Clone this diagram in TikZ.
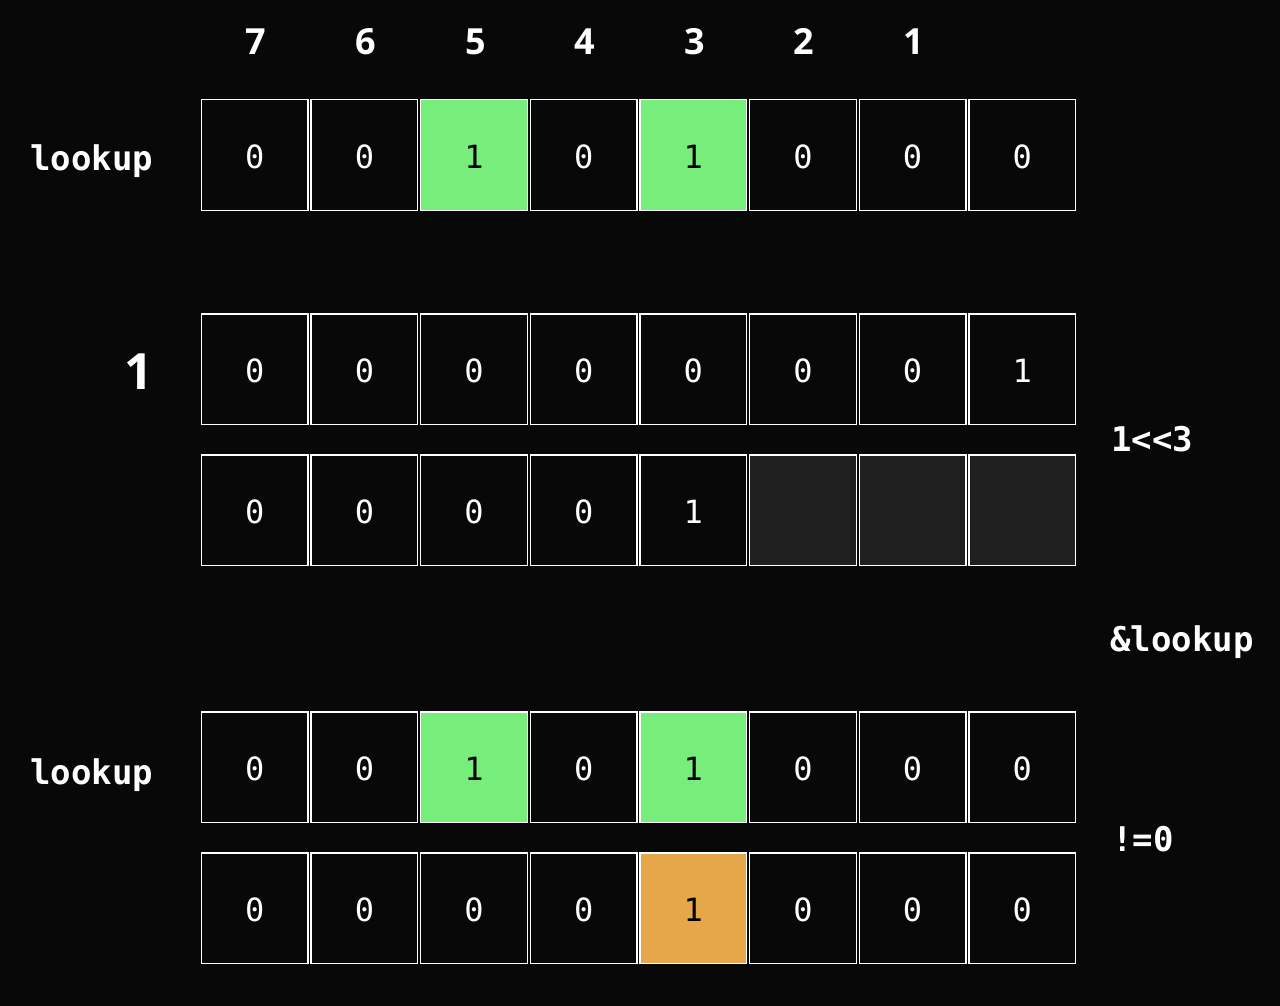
\documentclass[tikz,border=0pt]{standalone}
\usepackage{fontspec}
\setmainfont{DejaVu Sans}
\newfontfamily\cellfont{DejaVu Sans Mono}[Numbers=SlashedZero]
\newfontfamily\headfont{Open Sans}
\definecolor{bgc}{HTML}{080808}
\definecolor{ongreen}{HTML}{77ED7B}
\definecolor{hitorange}{HTML}{E6A64A}
\definecolor{dimgray}{HTML}{202020}
\tikzset{
  cell/.style={draw=white, line width=1.5pt, minimum width=106.6pt, minimum height=110.5pt,
    inner sep=0pt, text height=27pt, text depth=0pt, fill=bgc, text=white,
    font=\cellfont\fontsize{32}{32}\selectfont},
  on/.style={cell, fill=ongreen, text=black},
  hit/.style={cell, fill=hitorange, text=black},
  dim/.style={cell, fill=dimgray},
  lbl/.style={anchor=base west, inner sep=0pt, text=white, font=\cellfont\bfseries\fontsize{34}{34}\selectfont},
  hdr/.style={anchor=base, inner sep=0pt, text=white, font=\headfont\bfseries\fontsize{36}{36}\selectfont}
}
\begin{document}
\begin{tikzpicture}[x=1pt,y=-1pt]
\fill[bgc] (0,0) rectangle (1280,1006);
\useasboundingbox (0,0) rectangle (1280,1006);
% header bit numbers
\foreach \t [count=\i from 0] in {7,6,5,4,3,2,1}
  \node[hdr] (h\i) at (256+109.64*\i,55) {\t};
% row 1: lookup
\foreach \v/\s [count=\i from 0] in {0/cell,0/cell,1/on,0/cell,1/on,0/cell,0/cell,0/cell}
  \node[\s] (a\i) at (254.75+109.64*\i,155) {\v};
% row 2: 1
\foreach \v/\s [count=\i from 0] in {0/cell,0/cell,0/cell,0/cell,0/cell,0/cell,0/cell,1/cell}
  \node[\s] (b\i) at (254.75+109.64*\i,369) {\v};
% row 3: 1<<3
\foreach \v/\s [count=\i from 0] in {0/cell,0/cell,0/cell,0/cell,1/cell,{}/dim,{}/dim,{}/dim}
  \node[\s] (c\i) at (254.75+109.64*\i,510) {\v};
% row 4: lookup
\foreach \v/\s [count=\i from 0] in {0/cell,0/cell,1/on,0/cell,1/on,0/cell,0/cell,0/cell}
  \node[\s] (d\i) at (254.75+109.64*\i,767) {\v};
% row 5: result
\foreach \v/\s [count=\i from 0] in {0/cell,0/cell,0/cell,0/cell,1/hit,0/cell,0/cell,0/cell}
  \node[\s] (e\i) at (254.75+109.64*\i,908) {\v};
% labels
\node[lbl] (lk1) at (30,171) {lookup};
\node[anchor=base, inner sep=0pt, text=white, font=\headfont\bfseries\fontsize{50}{50}\selectfont] (one) at (139,389) {1};
\node[lbl] (shl) at (1111,451) {1<<3};
\node[lbl] (andl) at (1110,651) {\&lookup};
\node[lbl] (lk2) at (30,784) {lookup};
\node[lbl] (neq) at (1112,851) {!=0};
\end{tikzpicture}
\end{document}
